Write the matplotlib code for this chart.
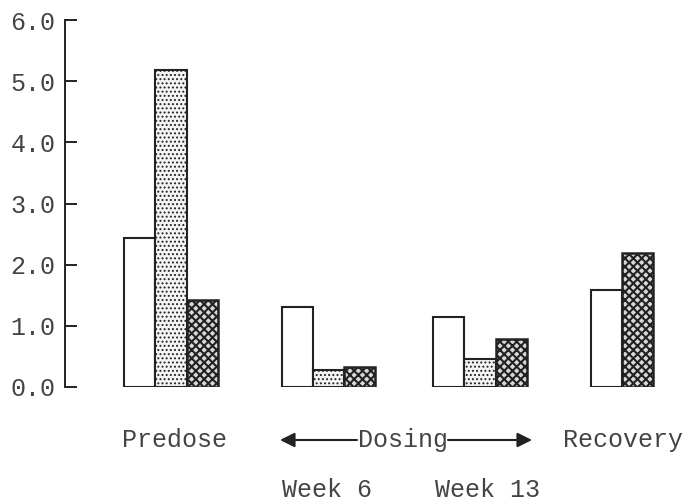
import numpy as np
import matplotlib
matplotlib.use("Agg")
import matplotlib.pyplot as plt

# group values read per period; recovery has no middle (light dotted) bar
periods = ["Predose", "Week 6", "Week 13", "Recovery"]
open_vals = [2.43, 1.30, 1.15, 1.58]
light_vals = [5.18, 0.27, 0.46, None]
dark_vals = [1.43, 0.33, 0.79, 2.19]
yticks = [0.0, 1.0, 2.0, 3.0, 4.0, 5.0, 6.0]

centers = [3.4, 8.45, 13.3, 17.85]

plt.rcParams["font.family"] = ["Liberation Mono", "DejaVu Sans Mono"]
ink = "#222222"
txt = "#444444"

fig = plt.figure(figsize=(6.89, 5.03), dpi=100)
ax = fig.add_axes([65 / 689, 1 - 387 / 503, 624 / 689, 367 / 503])


def draw_bar(x, v, style):
    if style == "open":
        ax.bar(x, v, width=1.0, facecolor="white", edgecolor=ink, linewidth=1.5)
    elif style == "light":
        with plt.rc_context({"hatch.linewidth": 0.9, "hatch.color": "#555555"}):
            ax.bar(x, v, width=1.0, facecolor="#f4f4f4", edgecolor=ink,
                   linewidth=1.5, hatch="....")
    else:
        with plt.rc_context({"hatch.linewidth": 1.5, "hatch.color": "#111111"}):
            ax.bar(x, v, width=1.0, facecolor="#d8d8d8", edgecolor=ink,
                   linewidth=1.8, hatch="xxxx")


for c, o, l, d in zip(centers, open_vals, light_vals, dark_vals):
    if l is None:
        draw_bar(c - 0.5, o, "open")
        draw_bar(c + 0.5, d, "dark")
    else:
        draw_bar(c - 1, o, "open")
        draw_bar(c, l, "light")
        draw_bar(c + 1, d, "dark")

ax.set_xlim(0, 20)
ax.set_ylim(0, 6)
ax.set_yticks(yticks)
ax.set_yticklabels(["%.1f" % t for t in yticks], fontsize=18, color=txt)
ax.tick_params(axis="y", direction="in", length=8.5, width=1.4, color=ink, pad=7)
ax.set_xticks([])
for side in ["top", "right", "bottom"]:
    ax.spines[side].set_visible(False)
ax.spines["left"].set_color(ink)
ax.spines["left"].set_linewidth(1.4)

fs = 18
fig.text(175 / 689, 1 - 440 / 503, "Predose", ha="center", va="center", fontsize=fs, color=txt)
fig.text(402.5 / 689, 1 - 440 / 503, "Dosing", ha="center", va="center", fontsize=fs, color=txt)
fig.text(623 / 689, 1 - 440 / 503, "Recovery", ha="center", va="center", fontsize=fs, color=txt)
fig.text(326.5 / 689, 1 - 490 / 503, "Week 6", ha="center", va="center", fontsize=fs, color=txt)
fig.text(487.5 / 689, 1 - 490 / 503, "Week 13", ha="center", va="center", fontsize=fs, color=txt)

ay = 1 - 440 / 503
arrow = dict(arrowstyle="-|>", color=ink, lw=1.5, mutation_scale=22, shrinkA=0, shrinkB=0)
fig.add_artist(matplotlib.patches.FancyArrowPatch((357 / 689, ay), (280 / 689, ay),
                                                  transform=fig.transFigure, **arrow))
fig.add_artist(matplotlib.patches.FancyArrowPatch((448 / 689, ay), (532 / 689, ay),
                                                  transform=fig.transFigure, **arrow))

fig.savefig("out.png", dpi=100)
